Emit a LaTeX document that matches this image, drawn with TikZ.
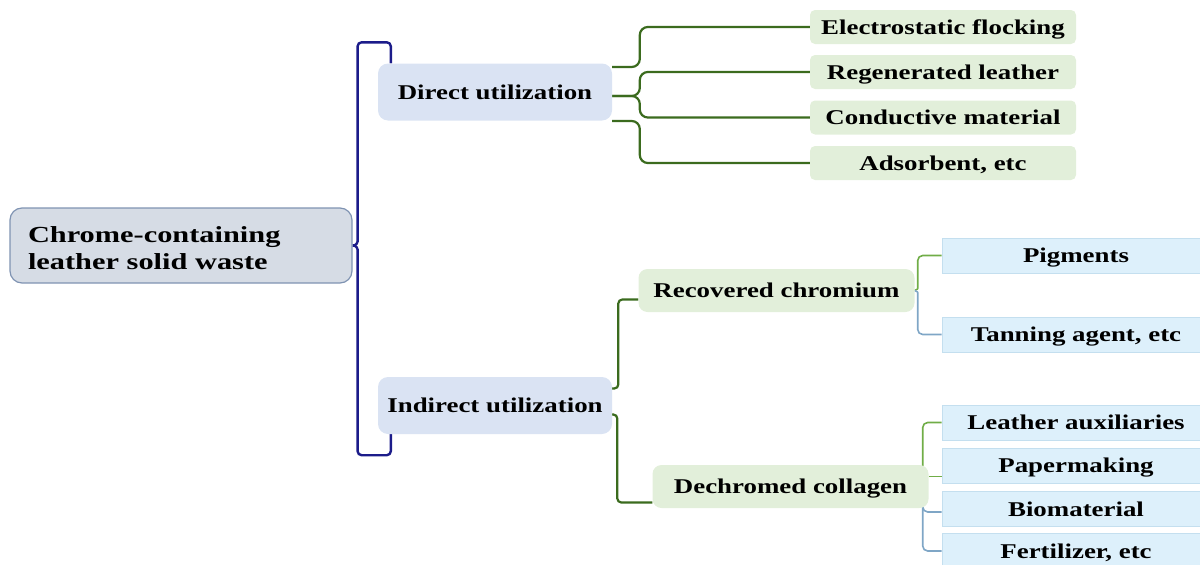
\documentclass[tikz,border=0pt]{standalone}
\usepackage{fontspec}
\setmainfont{Liberation Serif}
\newfontfamily\stretchserif[FakeStretch=1.28]{Liberation Serif}
\newfontfamily\rootserif[FakeStretch=1.32]{Liberation Serif}
\usetikzlibrary{backgrounds}

\definecolor{rootfill}{HTML}{D6DCE5}
\definecolor{rootline}{HTML}{7F93B2}
\definecolor{midfill}{HTML}{DAE3F3}
\definecolor{subfill}{HTML}{E2EFDA}
\definecolor{leaffill}{HTML}{DDF0FB}
\definecolor{leafline}{HTML}{C4DFEF}
\definecolor{navybrace}{HTML}{1C1C8A}
\definecolor{darkbrace}{HTML}{3B6B1E}
\definecolor{lightbrace}{HTML}{70AD47}
\definecolor{bluebrace}{HTML}{7FA6C6}

\newcommand{\boxfont}{\stretchserif\bfseries\fontsize{21pt}{25pt}\selectfont}
\newcommand{\headfont}{\rootserif\bfseries\fontsize{23pt}{27pt}\selectfont}

\tikzset{
  rootbox/.style={draw=rootline, fill=rootfill, line width=1.2pt, rounded corners=12pt,
    minimum height=75pt, text width=306pt, inner xsep=18pt, align=left, font=\headfont},
  midbox/.style={fill=midfill, rounded corners=10pt, minimum width=234pt, minimum height=57pt,
    text height=14pt, text depth=0pt, font=\boxfont},
  subbox/.style={fill=subfill, rounded corners=9pt, minimum width=276pt, minimum height=43pt,
    text height=14pt, text depth=0pt, font=\boxfont},
  greenleaf/.style={fill=subfill, rounded corners=5pt, minimum width=266pt, minimum height=34pt,
    text height=14pt, text depth=0pt, font=\boxfont},
  blueleaf/.style={fill=leaffill, draw=leafline, line width=0.6pt, minimum width=268pt, minimum height=35pt,
    text height=14pt, text depth=0pt, font=\boxfont},
  navyline/.style={draw=navybrace, line width=2.4pt, rounded corners=4pt},
  darkline/.style={draw=darkbrace, line width=2.2pt, rounded corners=8pt},
  greenline/.style={draw=lightbrace, line width=1.6pt, rounded corners=5pt},
  blueline/.style={draw=bluebrace, line width=1.6pt, rounded corners=5pt}
}

\begin{document}
\begin{tikzpicture}[x=1pt, y=-1pt]
  \useasboundingbox (0,0) rectangle (1200,565);
  \clip (0,0) rectangle (1200,565);

  % levels 0 and 1
  \node[rootbox] (root) at (181,245.5) {\rule{0pt}{22pt}Chrome-containing\\leather solid waste};
  \node[midbox] (direct) at (495,92) {Direct utilization};
  \node[midbox] (indirect) at (495,405.5) {Indirect utilization};

  % direct utilization
  \node[greenleaf] (elec) at (943,27) {Electrostatic flocking};
  \node[greenleaf] (regen) at (943,72) {Regenerated leather};
  \node[greenleaf] (conduct) at (943,117.5) {Conductive material};
  \node[greenleaf] (adsorb) at (943,163) {Adsorbent, etc};

  % indirect utilization
  \node[subbox] (recov) at (776.5,290.5) {Recovered chromium};
  \node[subbox] (dechrom) at (790.5,486.5) {Dechromed collagen};

  \node[blueleaf] (pigm) at (1076,255.5) {Pigments};
  \node[blueleaf] (tann) at (1076,334.5) {Tanning agent, etc};
  \node[blueleaf] (leath) at (1076,422.5) {Leather auxiliaries};
  \node[blueleaf] (paper) at (1076,465.5) {Papermaking};
  \node[blueleaf] (bio) at (1076,509) {Biomaterial};
  \node[blueleaf] (fert) at (1076,551) {Fertilizer, etc};

  \begin{scope}[on background layer]
    \draw[navyline] (root.east) .. controls +(4,0) and +(0,5) .. ([xshift=5pt,yshift=8pt]root.east)
      |- ([xshift=13pt,yshift=21pt]direct.north west) -- ([xshift=13pt]direct.north west);
    \draw[navyline] (root.east) .. controls +(4,0) and +(0,-5) .. ([xshift=5pt,yshift=-8pt]root.east)
      |- ([xshift=13pt,yshift=-21pt]indirect.south west) -- ([xshift=13pt]indirect.south west);

    \draw[darkline] ([yshift=25pt]direct.east) -| ([xshift=-170pt]elec.west) -- (elec.west);
    \draw[darkline] ([yshift=-4pt]direct.east) -| ([xshift=-170pt]regen.west) -- (regen.west);
    \draw[darkline] ([yshift=-4pt]direct.east) -| ([xshift=-170pt]conduct.west) -- (conduct.west);
    \draw[darkline] ([yshift=-29pt]direct.east) -| ([xshift=-170pt]adsorb.west) -- (adsorb.west);

    \draw[darkline, rounded corners=4pt] ([yshift=17pt]indirect.east)
      -| ([xshift=-20pt,yshift=-9pt]recov.west) -- ([yshift=-9pt]recov.west);
    \draw[darkline, rounded corners=4pt] ([yshift=-9pt]indirect.east)
      -| ([xshift=-35pt,yshift=-16pt]dechrom.west) -- ([yshift=-16pt]dechrom.west);

    \draw[greenline] (recov.east) .. controls +(3,0) and +(0,4) .. ([xshift=3pt,yshift=7pt]recov.east) |- (pigm.west);
    \draw[blueline] (recov.east) .. controls +(3,0) and +(0,-4) .. ([xshift=3pt,yshift=-7pt]recov.east) |- (tann.west);

    \draw[greenline] ([xshift=-6pt]dechrom.east) |- (leath.west);
    \draw[greenline] ([yshift=10pt]dechrom.east) -- ([yshift=-11pt]paper.west);
    \draw[blueline] ([xshift=-6pt]dechrom.east) |- ([yshift=-3pt]bio.west);
    \draw[blueline] ([xshift=-6pt]dechrom.east) |- (fert.west);
  \end{scope}
\end{tikzpicture}
\end{document}
